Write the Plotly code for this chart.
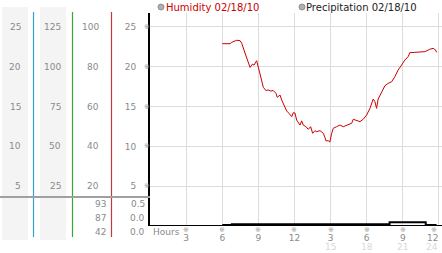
import plotly.graph_objects as go

W, H = 442, 253

# ---------------- data ----------------
hours = [6.0, 6.65, 6.8, 7.2, 7.48, 7.62, 7.89, 8.14, 8.31, 8.5, 8.64, 8.86, 9.0, 9.2, 9.41,
         9.63, 9.83, 10.02, 10.24, 10.46, 10.57, 10.8, 10.94, 11.21, 11.35, 11.54, 11.77, 11.9,
         12.04, 12.18, 12.46, 12.6, 12.73, 12.95, 13.15, 13.34, 13.51, 13.7, 13.84, 14.12, 14.39,
         14.53, 14.61, 14.8, 14.94, 15.09, 15.22, 15.5, 15.77, 16.05, 16.46, 16.75, 16.88, 17.16,
         17.44, 17.71, 17.99, 18.27, 18.54, 18.68, 18.82, 18.95, 19.24, 19.51, 19.78, 20.07,
         20.34, 20.61, 20.9, 21.17, 21.44, 21.58, 22.0, 22.41, 22.83, 23.24, 23.52, 23.72, 23.8]
humidity = [22.87, 22.87, 23.05, 23.3, 23.25, 22.92, 21.7, 20.45, 19.9, 20.3, 20.2, 20.74, 20.0,
            18.7, 17.4, 17.0, 17.07, 16.94, 17.0, 16.65, 16.15, 16.44, 15.8, 14.98, 14.44, 14.15,
            13.72, 14.22, 14.19, 13.3, 12.67, 13.2, 12.67, 12.47, 12.14, 12.47, 11.64, 11.97,
            11.84, 11.97, 11.64, 11.14, 10.71, 10.71, 10.55, 11.64, 12.27, 12.47, 12.68, 12.47,
            12.68, 12.9, 13.4, 13.22, 13.1, 13.4, 13.93, 14.77, 15.94, 15.6, 14.77, 15.94, 16.85,
            17.6, 17.9, 18.1, 18.73, 19.57, 20.2, 20.83, 21.24, 21.74, 21.79, 21.79, 21.87, 22.17,
            22.29, 22.08, 21.79]

precip_hours = [6.0, 6.8, 19.9, 22.9, 23.8]
precip = [-0.01, 0.0, 0.04, -0.012, -0.012]

y_ticks = [25, 20, 15, 10, 5]
col1_labels = ["25", "20", "15", "10", "5"]
col2_labels = ["125", "100", "75", "50", "25"]
col3_labels = ["100", "80", "60", "40", "20"]
stat_labels = ["93", "87", "42"]
precip_labels = ["0.5", "0.0", "0.0"]

x_ticks = [3, 6, 9, 12, 15, 18, 21, 24]
x_ticktext = ["3", "6", "9", "12", "3", "6", "9", "12"]
x_pm_vals = [15, 18, 21, 24]
x_pm_text = ["15", "18", "21", "24"]

legend_names = ["Humidity 02/18/10", "Precipitation 02/18/10"]

# ---------------- helpers ----------------
def px(x):
    return x / W

def py(y):
    return (H - y) / H

FONT = "DejaVu Sans"
GRAY = "#8a8a8a"
X_RANGE = [0, 292 / 12.04]
X_MAX_PX = 437.5  # last labels are pulled inside the page edge

fig = go.Figure()
fig.add_trace(go.Scatter(x=hours, y=humidity, mode="lines",
                         line=dict(color="#cc0000", width=1), xaxis="x", yaxis="y",
                         showlegend=False, hoverinfo="skip"))
fig.add_trace(go.Scatter(x=precip_hours, y=precip, mode="lines", line_shape="hv",
                         line=dict(color="#000000", width=2), xaxis="x", yaxis="y2",
                         showlegend=False, hoverinfo="skip"))

shapes = []
for x0, x1 in [(2, 28), (40, 66)]:
    shapes.append(dict(type="rect", xref="paper", yref="paper", x0=px(x0), x1=px(x1),
                       y0=py(240), y1=py(7), fillcolor="#f4f4f4", line=dict(width=0),
                       layer="below"))
for xx, col in [(33.5, "#3a9fcf"), (72.5, "#3aa63a"), (111.5, "#c43a3a")]:
    shapes.append(dict(type="line", xref="paper", yref="paper", x0=px(xx), x1=px(xx),
                       y0=py(237), y1=py(12), line=dict(color=col, width=1.2)))
shapes.append(dict(type="line", xref="paper", yref="paper", x0=0, x1=px(150),
                   y0=py(197), y1=py(197), line=dict(color="#a0a0a0", width=2)))
for cx in [161, 302]:
    shapes.append(dict(type="circle", xref="paper", yref="paper", x0=px(cx - 3), x1=px(cx + 3),
                       y0=py(10), y1=py(4), fillcolor="#b0b0b0",
                       line=dict(color="#909090", width=1)))

ann = []
def label(text, xr, y, yref="y", color=GRAY, size=9, anchor="right", xref="paper"):
    ann.append(dict(text=text, x=px(xr) if xref == "paper" else xr, xref=xref, y=y, yref=yref,
                    xanchor=anchor, yanchor="middle", showarrow=False, borderpad=0,
                    borderwidth=0, font=dict(family=FONT, size=size, color=color)))

for v, t1, t2, t3 in zip(y_ticks, col1_labels, col2_labels, col3_labels):
    label(t1, 21, v)
    label(t2, 61, v)
    label(t3, 99, v)
    label("※", 146.5, v, size=7, color="#999999", anchor="center")

for yy, s, p in zip([204, 218, 232], stat_labels, precip_labels):
    label(s, 106, py(yy), yref="paper")
    label(p, 145, py(yy), yref="paper")

# x tick markers and PM hour labels (last one pulled inside the page)
for v in x_ticks:
    if v == x_ticks[-1]:
        label("※", X_MAX_PX - 4, py(229.5), yref="paper", size=7, color="#999999",
              anchor="center")
    else:
        label("※", v, py(229.5), yref="paper", size=7, color="#999999", anchor="center",
              xref="x")
for v, t in zip(x_pm_vals, x_pm_text):
    if v == x_pm_vals[-1]:
        label(t, X_MAX_PX, py(246.5), yref="paper", color="#d8d8d8", anchor="right")
    else:
        label(t, v, py(246.5), yref="paper", color="#d8d8d8", anchor="center", xref="x")
label(x_ticktext[-1], X_MAX_PX, py(238), yref="paper", anchor="right")
label("Hours", 153, py(232), yref="paper", anchor="left")

label(legend_names[0], 166, py(7.5), yref="paper", color="#cc0000", size=10, anchor="left")
label(legend_names[1], 306, py(7.5), yref="paper", color="#222222", size=10, anchor="left")

fig.update_layout(
    width=W, height=H, margin=dict(l=0, r=0, t=0, b=0),
    paper_bgcolor="white", plot_bgcolor="white", showlegend=False,
    font=dict(family=FONT, size=9, color=GRAY),
    xaxis=dict(domain=[px(150), 1], range=X_RANGE, anchor="y2",
               tickmode="array", tickvals=x_ticks, ticktext=x_ticktext[:-1] + [""],
               showgrid=True, gridcolor="#dddddd", gridwidth=1, zeroline=False,
               showline=True, linecolor="#000000", linewidth=1, ticks="",
               ticklabelstandoff=4, tickfont=dict(family=FONT, size=9, color=GRAY)),
    yaxis=dict(domain=[py(197), py(13)], range=[(226.2 - 197) / 7.98, (226.2 - 13) / 7.98],
               anchor="x", tickmode="array", tickvals=y_ticks,
               showgrid=True, gridcolor="#dddddd", gridwidth=1, zeroline=False,
               showline=True, linecolor="#000000", linewidth=2, ticks="",
               ticklabelstandoff=10, tickfont=dict(family=FONT, size=9, color=GRAY)),
    yaxis2=dict(domain=[py(225), py(197)], range=[-0.012, 0.5], anchor="x",
                showgrid=False, zeroline=False, showticklabels=False,
                showline=True, linecolor="#000000", linewidth=2, ticks=""),
    shapes=shapes, annotations=ann,
)

fig.write_html("out.html")
